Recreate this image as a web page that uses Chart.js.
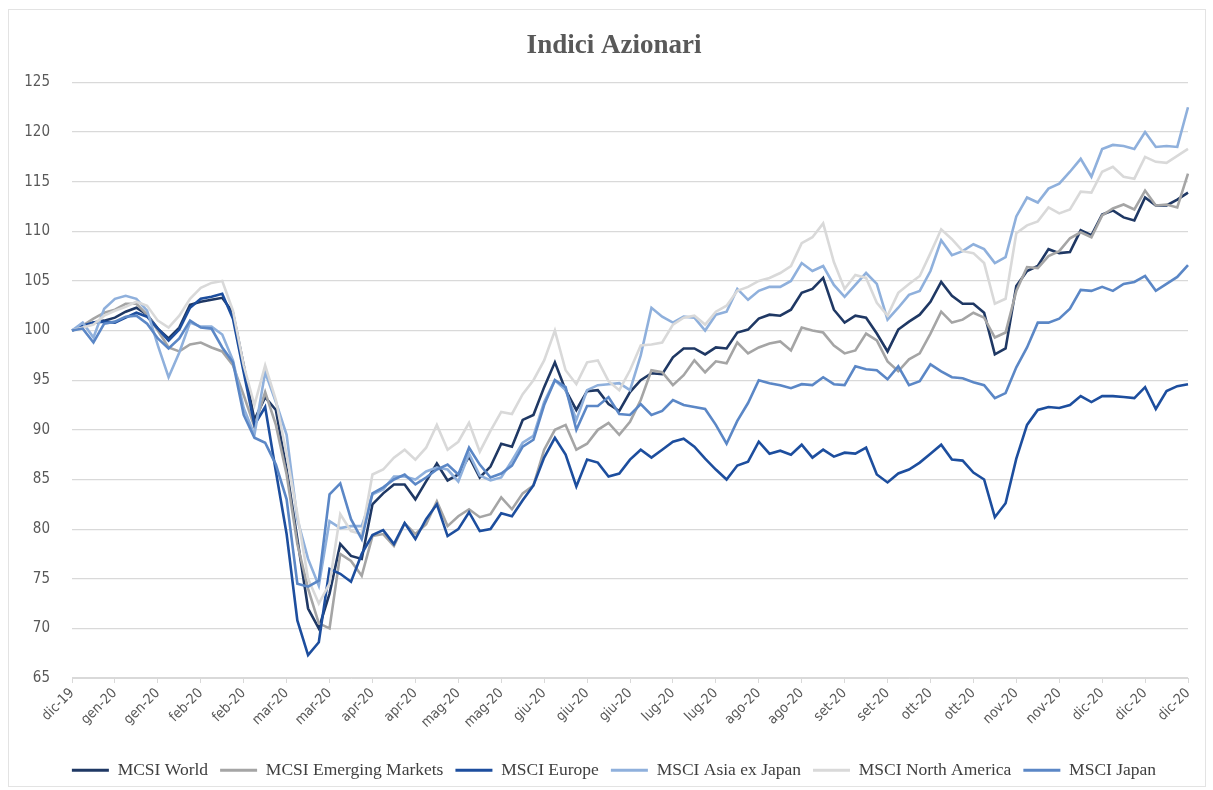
<!DOCTYPE html>
<html><head><meta charset="utf-8">
<script src="https://cdn.jsdelivr.net/npm/chart.js@4.4.1/dist/chart.umd.min.js"></script>
<style>
html,body{margin:0;padding:0;background:#fff;}
#wrap{position:relative;width:1213px;height:790px;}
#frame{position:absolute;left:8px;top:9px;width:1196px;height:776px;border:1px solid #e3e3e3;pointer-events:none;}
canvas{position:absolute;left:0;top:0;}
</style></head><body>
<div id="wrap"><canvas id="c" width="1213" height="790"></canvas><div id="frame"></div></div>
<script>
const tickLabels = ['dic-19','gen-20','gen-20','feb-20','feb-20','mar-20','mar-20','apr-20','apr-20','mag-20','mag-20','giu-20','giu-20','giu-20','lug-20','lug-20','ago-20','ago-20','set-20','set-20','ott-20','ott-20','nov-20','nov-20','dic-20','dic-20','dic-20'];
const seriesNames = ['MCSI World','MCSI Emerging Markets','MSCI Europe','MSCI Asia ex Japan','MSCI North America','MSCI Japan'];

const world = [100,100.4,100.8,101.0,101.3,101.9,102.3,101.6,100.2,99.2,
100.3,102.6,102.9,103.1,103.3,101.8,96.5,91.0,93.3,92.0,
86.0,79.0,72.0,70.0,73.5,78.5,77.3,77.0,82.5,83.6,
84.5,84.5,83.0,84.8,86.6,84.9,85.5,87.3,85.2,86.3,
88.6,88.3,91.0,91.5,94.3,96.8,94.0,92.0,93.9,94.0,
92.6,91.9,93.8,95.0,95.7,95.6,97.3,98.2,98.2,97.6,
98.3,98.2,99.8,100.1,101.2,101.6,101.5,102.1,103.8,104.2,
105.3,102.1,100.8,101.5,101.3,99.7,97.9,100.1,100.9,101.6,
102.9,104.9,103.5,102.7,102.7,101.8,97.6,98.2,104.5,106.0,
106.5,108.2,107.8,107.9,110.1,109.6,111.7,112.1,111.4,111.1,
113.4,112.6,112.6,113.2,113.9];

const emerging = [100,100.5,101.2,101.8,102.1,102.7,102.7,101.6,100.0,98.3,
97.9,98.6,98.8,98.3,97.9,96.5,93.5,90.3,93.8,90.5,
85.5,78.5,74.0,70.5,70.0,77.5,76.8,75.3,79.3,79.5,
78.3,80.6,79.5,80.5,82.8,80.3,81.3,82.0,81.2,81.5,
83.2,82.0,83.6,84.4,88.0,90.0,90.5,88.0,88.6,90.0,
90.7,89.5,90.8,93.0,96.0,95.8,94.5,95.5,97.0,95.8,
96.9,96.7,98.8,97.7,98.3,98.7,98.9,98.0,100.3,100.0,
99.8,98.5,97.7,98.0,99.7,99.0,96.9,95.9,97.1,97.7,
99.7,101.9,100.8,101.1,101.8,101.3,99.3,99.8,104.0,106.4,
106.3,107.5,108.0,109.3,109.9,109.4,111.6,112.3,112.7,112.2,
114.1,112.6,112.7,112.4,115.8];

const europe = [100,100.5,100.8,100.9,100.8,101.3,101.8,101.4,100.2,99.0,
100.1,102.3,103.2,103.4,103.7,101.2,95.8,90.5,92.3,85.8,
79.5,70.8,67.3,68.6,76.0,75.5,74.7,77.5,79.4,79.9,
78.5,80.6,79.0,81.0,82.5,79.3,80.0,81.7,79.8,80.0,
81.6,81.3,82.9,84.4,87.2,89.2,87.5,84.3,87.0,86.7,
85.3,85.6,87.0,88.0,87.2,88.0,88.8,89.1,88.3,87.1,
86.0,85.0,86.4,86.8,88.8,87.6,87.9,87.5,88.5,87.2,
88.0,87.3,87.7,87.6,88.2,85.5,84.7,85.6,86.0,86.7,
87.6,88.5,87.0,86.9,85.7,85.0,81.2,82.6,87.1,90.5,
92.0,92.3,92.2,92.5,93.4,92.8,93.4,93.4,93.3,93.2,
94.3,92.1,93.9,94.4,94.6];

const asiaExJapan = [100,100.8,99.3,102.2,103.2,103.5,103.2,102.0,98.5,95.3,
97.8,100.8,100.4,100.4,99.6,97.0,92.2,89.5,95.8,92.8,
89.5,81.0,77.0,74.3,80.8,80.1,80.3,80.3,83.5,84.0,
85.3,85.3,85.0,85.8,86.2,86.0,84.8,87.6,85.4,84.9,
85.2,86.9,88.7,89.4,92.8,95.0,94.0,91.0,94.0,94.5,
94.6,94.7,94.0,97.5,102.3,101.4,100.8,101.4,101.3,100.0,
101.6,101.9,104.2,103.1,104.0,104.4,104.4,105.0,106.8,106.0,
106.5,104.6,103.4,104.6,105.8,104.7,101.1,102.3,103.6,104.0,
106.0,109.1,107.6,108.0,108.7,108.2,106.8,107.4,111.5,113.4,
112.9,114.3,114.8,116.0,117.3,115.5,118.3,118.7,118.6,118.3,
120.0,118.5,118.6,118.5,122.5];

const northAmerica = [100,100.3,100.6,101.5,102.0,102.4,102.9,102.5,101.0,100.3,
101.5,103.2,104.3,104.8,105.0,102.0,96.5,92.5,96.5,93.0,
87.5,81.5,75.0,72.5,74.5,81.5,79.8,79.5,85.5,86.0,
87.2,88.0,87.0,88.2,90.5,88.0,88.8,90.7,87.8,89.9,
91.8,91.6,93.6,95.0,97.0,100.0,96.0,94.6,96.8,97.0,
94.9,94.0,96.0,98.5,98.6,98.8,100.6,101.3,101.5,100.6,
101.9,102.5,104.0,104.4,105.0,105.3,105.8,106.5,108.8,109.4,
110.8,106.9,104.2,105.6,105.3,102.8,101.5,103.8,104.7,105.5,
107.8,110.2,109.2,108.0,107.8,106.8,102.7,103.2,109.8,110.6,
111.0,112.4,111.8,112.2,114.0,113.9,116.0,116.5,115.5,115.3,
117.5,117.0,116.9,117.6,118.3];

const japan = [100,100.2,98.8,100.7,100.9,101.4,101.5,100.7,99.2,98.2,
99.2,101.0,100.3,100.2,98.3,96.8,91.5,89.2,88.7,86.5,
83.0,74.5,74.2,74.8,83.5,84.6,81.0,79.0,83.6,84.2,
85.0,85.5,84.5,85.2,86.0,86.5,85.5,88.2,86.5,85.2,
85.6,86.4,88.3,89.0,92.5,95.0,94.3,90.0,92.4,92.4,
93.3,91.6,91.5,92.6,91.5,91.9,93.0,92.5,92.3,92.1,
90.5,88.6,90.9,92.7,95.0,94.7,94.5,94.2,94.6,94.5,
95.3,94.6,94.5,96.4,96.1,96.0,95.1,96.4,94.5,94.9,
96.6,95.9,95.3,95.2,94.8,94.5,93.2,93.7,96.3,98.3,
100.8,100.8,101.2,102.2,104.1,104.0,104.4,104.0,104.7,104.9,
105.5,104.0,104.7,105.4,106.6];

const seriesColors = ['#1f3864','#a5a5a5','#1d4e9e','#8fb0dc','#d9d9d9','#5b87c6'];
const pointsPerTick = 4;
const categories = world.map((_, i) => i % pointsPerTick === 0 ? tickLabels[i / pointsPerTick] : '');
const allSeries = [world, emerging, europe, asiaExJapan, northAmerica, japan];

const narrow = "'Liberation Sans Narrow','Arial Narrow','DejaVu Sans Condensed',sans-serif";

// center title and legend on the page like the reference
const centerShift = {
  id: 'centerShift',
  afterLayout(chart) {
    [chart.legend, chart.titleBlock].forEach(b => { if (b) { b.left += 20; b.right += 20; } });
  }
};

new Chart(document.getElementById('c'), {
  type: 'line',
  data: {
    labels: categories,
    datasets: allSeries.map((d, i) => ({
      label: seriesNames[i],
      data: d,
      borderColor: seriesColors[i],
      backgroundColor: seriesColors[i],
      borderWidth: 2.6,
      pointRadius: 0,
      tension: 0,
      order: allSeries.length - i
    }))
  },
  plugins: [centerShift],
  options: {
    responsive: false,
    animation: false,
    devicePixelRatio: 1,
    layout: { padding: { left: 0, right: 25, top: 0, bottom: 1 } },
    plugins: {
      tooltip: { enabled: false },
      title: {
        display: true,
        text: 'Indici Azionari',
        color: '#595959',
        font: { family: "'Liberation Serif','Times New Roman',serif", size: 27, weight: 'bold', lineHeight: 1.2 },
        padding: { top: 30, bottom: 20 }
      },
      legend: {
        position: 'bottom',
        labels: {
          color: '#404040',
          font: { family: "'Liberation Serif','Times New Roman',serif", size: 17.5 },
          boxWidth: 37,
          boxHeight: 3,
          padding: 12,
          sort: (a, b) => a.datasetIndex - b.datasetIndex,
          generateLabels: (chart) => Chart.defaults.plugins.legend.labels.generateLabels(chart)
            .map(l => Object.assign(l, { fillStyle: l.strokeStyle, lineWidth: 0 }))
        }
      }
    },
    scales: {
      x: {
        type: 'category',
        offset: false,
        afterFit: (s) => { s.height = 71.5; },
        border: { color: '#d9d9d9', width: 1 },
        grid: { drawOnChartArea: false, drawTicks: true, tickLength: 5, color: '#d9d9d9' },
        ticks: {
          autoSkip: false,
          maxRotation: 45,
          minRotation: 45,
          color: '#595959',
          padding: 2,
          font: { family: narrow, size: 14 },
          callback: function (v, idx) { return idx % pointsPerTick === 0 ? tickLabels[idx / pointsPerTick] : null; }
        }
      },
      y: {
        min: 65,
        max: 125,
        afterFit: (s) => { s.width = 72; },
        border: { display: false },
        grid: { color: '#d9d9d9', lineWidth: 1.2, drawTicks: false },
        ticks: {
          stepSize: 5,
          color: '#595959',
          padding: 22,
          font: { family: narrow, size: 15 }
        }
      }
    }
  }
});
</script>
</body></html>
